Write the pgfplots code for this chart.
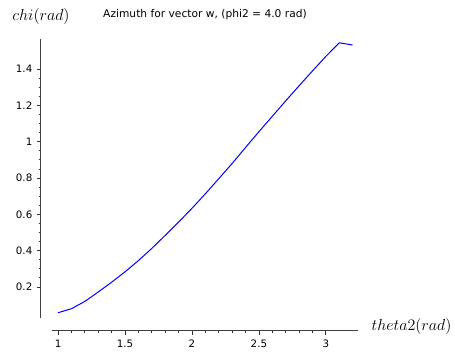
\documentclass[border=0pt]{standalone}
\usepackage{fontspec}
\setmainfont{DejaVu Sans}
\usepackage{pgfplots}
\pgfplotsset{compat=1.18}
\begin{document}
\begin{tikzpicture}
\begin{axis}[
  scale only axis,
  width=229.5pt, height=209.25pt,
  xmin=0.955, xmax=3.24, ymin=0.029, ymax=1.566,
  axis x line*=bottom, axis y line*=left,
  axis x line shift=9.75pt, axis y line shift=8.25pt,
  xtick={1,1.5,2,2.5,3},
  ytick={0.2,0.4,0.6,0.8,1,1.2,1.4},
  minor x tick num=4, minor y tick num=3,
  tick align=outside,
  major tick length=3pt, minor tick length=1.6pt,
  tick style={black!80, line width=0.6pt},
  axis line style={black!75, line width=0.75pt},
  ticklabel style={font=\fontsize{7.7}{9}\selectfont},
  /pgf/number format/assume math mode=true,
  title={Azimuth for vector w, (phi2 = 4.0 rad)},
  title style={font=\fontsize{8}{10}\selectfont, at={(axis description cs:0.5,1)}, anchor=base, yshift=9.75pt},
  xlabel={$theta2(rad)$},
  xlabel style={font=\fontsize{12.9}{14}\selectfont, at={(axis description cs:1,0)}, anchor=base west, xshift=6.75pt, yshift=-9.75pt},
  ylabel={$chi(rad)$},
  ylabel style={rotate=-90, font=\fontsize{13.2}{14}\selectfont, at={(axis description cs:0,1)}, anchor=base, xshift=-8.25pt, yshift=13.5pt},
  clip=false,
]
\addplot[color={rgb,255:red,0;green,0;blue,255}, line width=0.75pt] table {
x y
1.0 0.058
1.1 0.080
1.2 0.120
1.3 0.172
1.4 0.226
1.5 0.283
1.6 0.345
1.7 0.412
1.8 0.484
1.9 0.557
2.0 0.633
2.1 0.713
2.2 0.796
2.3 0.880
2.4 0.968
2.5 1.055
2.6 1.140
2.7 1.225
2.8 1.308
2.9 1.390
3.0 1.470
3.1 1.545
3.2 1.533
};
\coordinate (O) at (rel axis cs:0,0);
\coordinate (T) at (rel axis cs:1,1);
\end{axis}
\pgfresetboundingbox
\path ([shift={(-39pt,-30pt)}]O) rectangle ([shift={(72.75pt,29.25pt)}]T);
\end{tikzpicture}
\end{document}
